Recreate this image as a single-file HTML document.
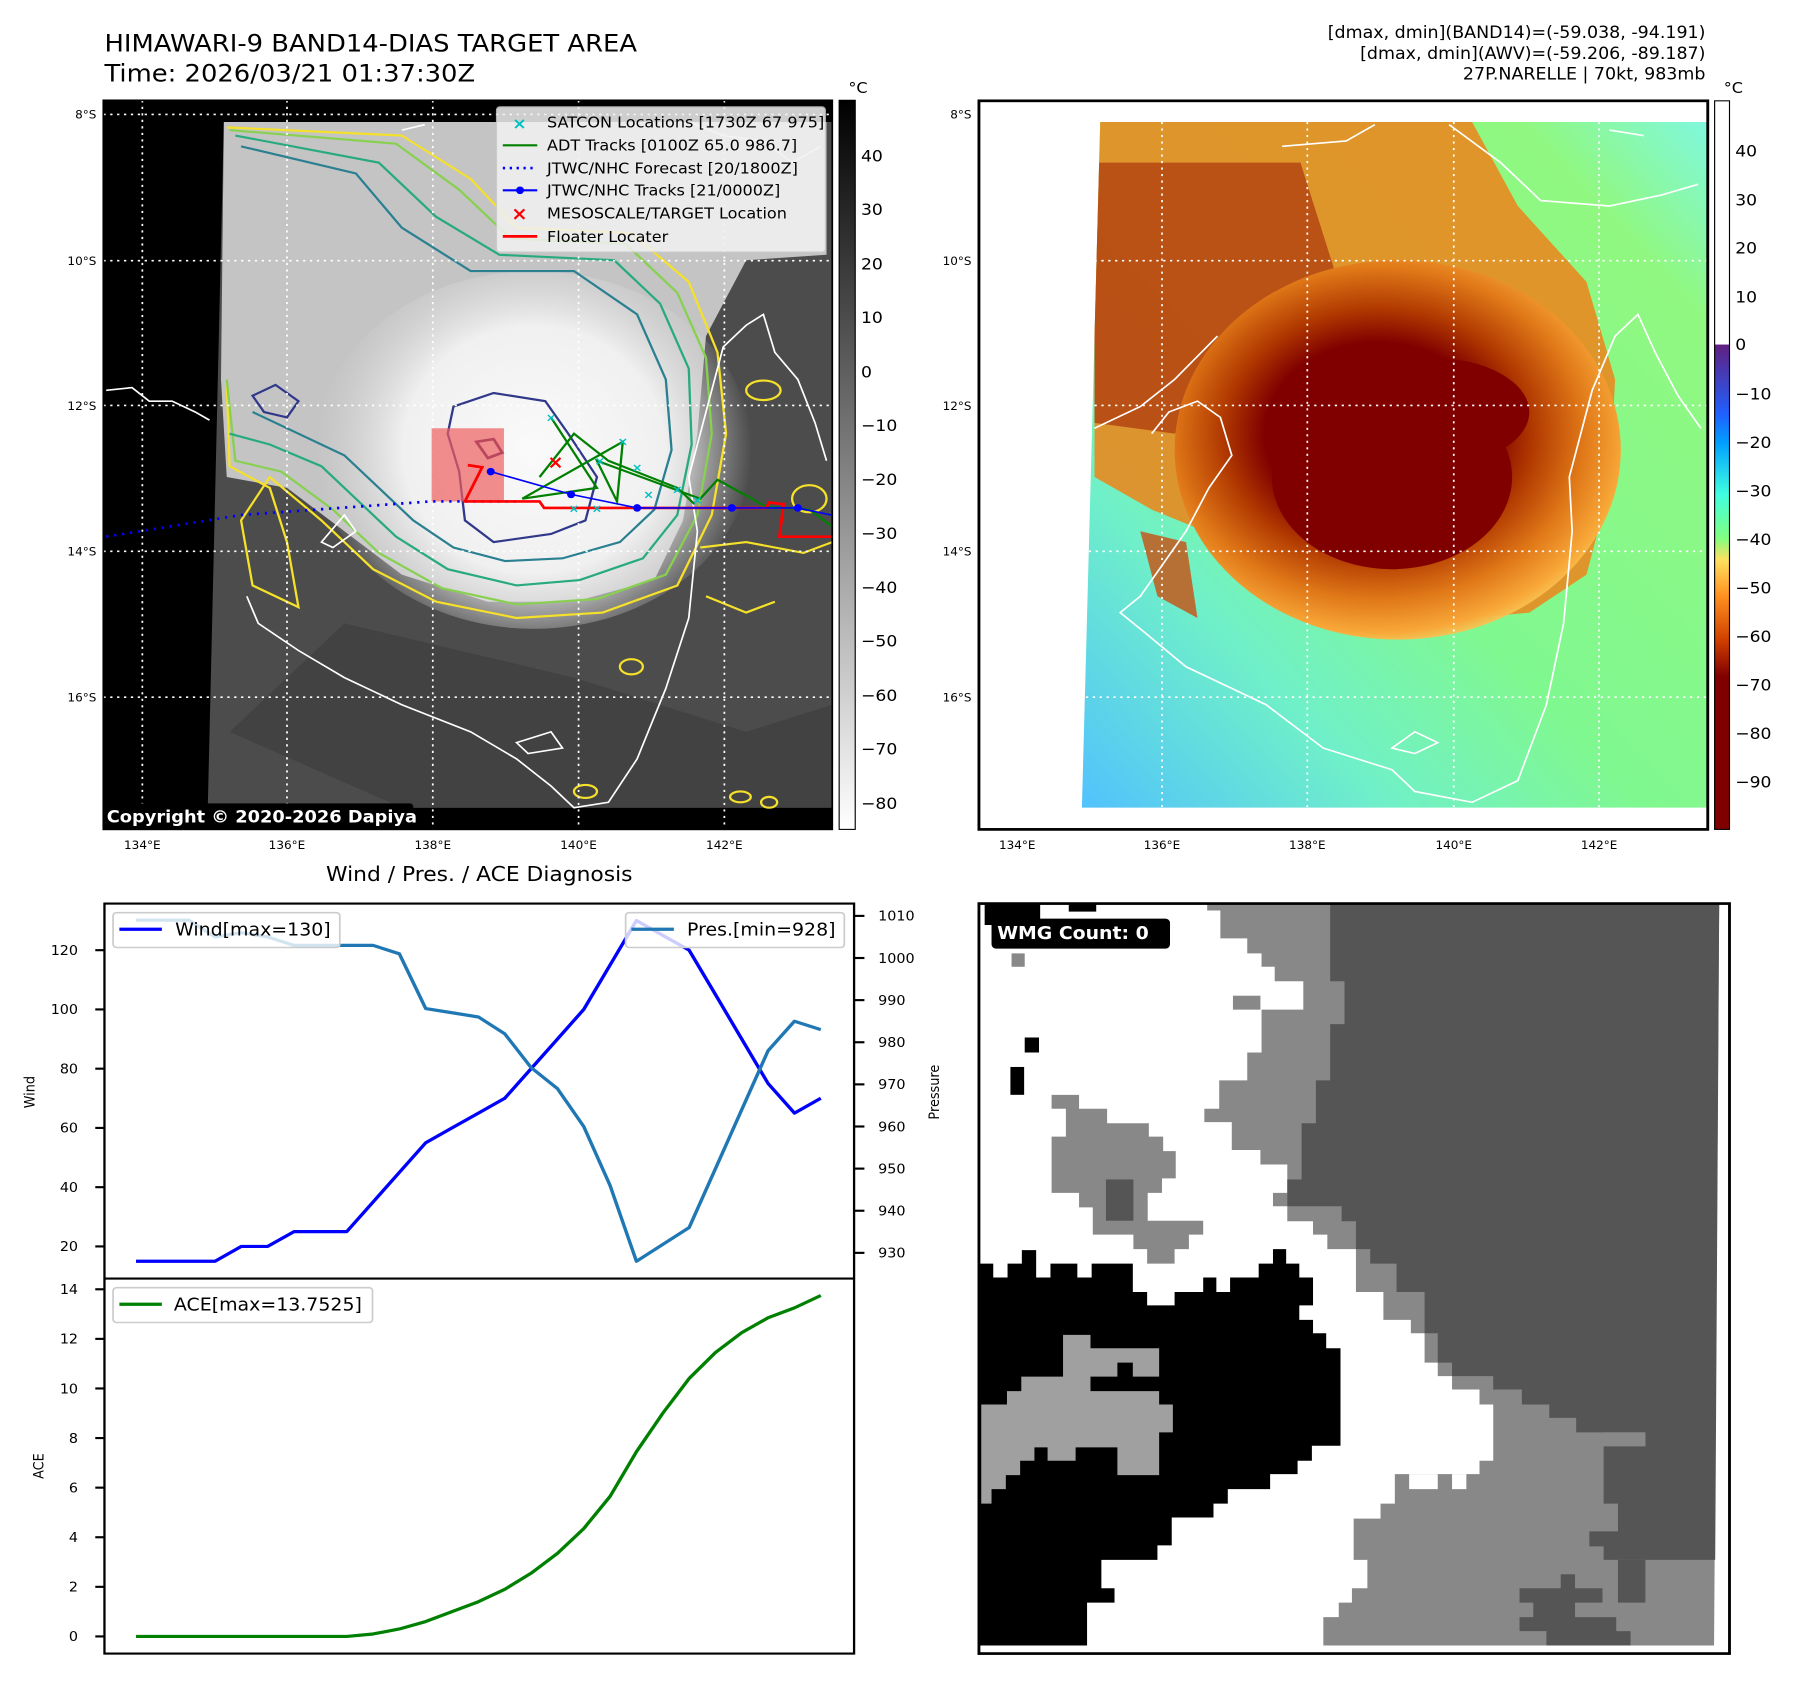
<!DOCTYPE html>
<html><head><meta charset="utf-8"><style>
html,body{margin:0;padding:0;background:#fff;}
body{width:1797px;height:1690px;position:relative;overflow:hidden;font-family:"Liberation Sans","DejaVu Sans",sans-serif;}
svg.q{position:absolute;overflow:visible;}
svg text{font-family:"DejaVu Sans","Liberation Sans",sans-serif;}
</style></head><body>

<!-- TOP LEFT: IR map -->
<svg class="q" style="left:0;top:0;width:900px;height:850px" viewBox="0 0 1568 1568" preserveAspectRatio="none">
<defs>
<radialGradient id="eyeg" cx="930" cy="830" r="380" gradientUnits="userSpaceOnUse">
<stop offset="0" stop-color="#fafafa"/><stop offset="0.6" stop-color="#f0f0f0"/><stop offset="1" stop-color="#d8d8d8" stop-opacity="0"/></radialGradient>
<linearGradient id="cb1" x1="0" y1="0" x2="0" y2="1"><stop offset="0" stop-color="#000"/><stop offset="1" stop-color="#fff"/></linearGradient>
<clipPath id="mclip"><rect x="180" y="185" width="1270" height="1345"/></clipPath>
</defs>
<text x="182" y="95" font-size="45">HIMAWARI-9 BAND14-DIAS TARGET AREA</text>
<text x="182" y="150" font-size="45">Time: 2026/03/21 01:37:30Z</text>
<rect x="180" y="185" width="1270" height="1345" fill="#000"/>
<g clip-path="url(#mclip)">
<polygon points="390,225 1450,225 1450,1490 362,1490" fill="#4c4c4c"/>
<polygon points="600,1150 1000,1250 1300,1350 1450,1300 1450,1490 700,1490 400,1350" fill="#3e3e3e" opacity="0.7"/>
<polygon points="390,225 1440,225 1440,470 1300,480 1230,620 1215,800 1190,960 1140,1070 1000,1110 850,1110 700,1060 600,980 500,900 395,880 385,700" fill="#c4c4c4"/>
<ellipse cx="930" cy="830" rx="380" ry="330" fill="url(#eyeg)"/>
<g fill="none" stroke-width="4">
<path d="M395,235 L700,250 L820,330 L900,420 L1100,430 L1200,520 L1250,650 L1265,800 L1240,950 L1180,1080 L1050,1130 L900,1140 L760,1110 L650,1050 L560,960 L470,880 L420,960 L440,1080 L520,1120 L500,1000 L470,900 L400,860 L395,700" stroke="#f5e02a"/>
<path d="M400,240 L690,265 L800,350 L890,440 L1090,450 L1180,540 L1230,660 L1240,800 L1215,950 L1160,1060 L1040,1105 L900,1115 L770,1085 L660,1020 L580,940 L490,870 L410,850 L395,700" stroke="#88d050"/>
<path d="M410,250 L660,300 L760,400 L870,470 L1070,480 L1150,560 L1200,680 L1205,820 L1180,950 L1120,1030 L1010,1070 L900,1080 L780,1050 L690,990 L620,920 L560,860 L470,820 L400,800" stroke="#28aa80"/>
<path d="M420,270 L620,320 L700,420 L820,500 L1000,500 L1110,580 L1160,700 L1170,830 L1140,940 L1080,1000 L980,1030 L880,1035 L790,1010 L720,960 L660,900 L600,840 L520,800 L440,760" stroke="#2a8090"/>
<path d="M790,750 L860,725 L950,740 L990,800 L1040,880 L1020,960 L960,985 L860,1000 L810,960 L800,870 L780,800 Z" stroke="#30388a"/>
<path d="M440,730 L480,710 L520,740 L500,770 L460,760 Z" stroke="#30388a"/>
<path d="M830,815 L860,810 L875,835 L850,845 Z" stroke="#401060" stroke-width="5"/>
</g>
<g fill="none" stroke="#f5e02a" stroke-width="4">
<ellipse cx="1330" cy="720" rx="30" ry="18"/><ellipse cx="1410" cy="920" rx="30" ry="25"/><ellipse cx="1100" cy="1230" rx="20" ry="14"/><ellipse cx="1290" cy="1470" rx="18" ry="10"/><ellipse cx="1340" cy="1480" rx="14" ry="10"/><ellipse cx="1020" cy="1460" rx="20" ry="12"/>
<path d="M1220,1010 L1300,1000 L1400,1020 L1450,1000 M1230,1100 L1300,1130 L1350,1110"/>
</g>
<g fill="none" stroke="#fff" stroke-width="3">
<path d="M185,720 L230,715 L260,740 L300,740 L340,760 L365,775"/>
<path d="M430,1100 L450,1150 L520,1200 L600,1250 L700,1300 L820,1350 L900,1400 L960,1450 L1000,1490 L1060,1480 L1110,1400 L1160,1270 L1200,1140 L1215,980 L1200,880 L1230,760 L1260,640 L1300,600 L1330,580 L1350,650 L1390,700 L1420,780 L1440,850"/>
<path d="M1200,225 L1260,250 L1330,260 L1380,300 L1430,270 M700,240 L740,230"/>
<path d="M560,1000 L600,950 L620,980 L580,1010 Z M900,1370 L960,1350 L980,1380 L920,1390 Z"/>
</g>
<g stroke="#fff" stroke-width="3" stroke-dasharray="4,8">
<line x1="248" y1="185" x2="248" y2="1530"/><line x1="500" y1="185" x2="500" y2="1530"/><line x1="754" y1="185" x2="754" y2="1530"/><line x1="1008" y1="185" x2="1008" y2="1530"/><line x1="1262" y1="185" x2="1262" y2="1530"/>
<line x1="180" y1="211" x2="1450" y2="211"/><line x1="180" y1="481" x2="1450" y2="481"/><line x1="180" y1="748" x2="1450" y2="748"/><line x1="180" y1="1017" x2="1450" y2="1017"/><line x1="180" y1="1286" x2="1450" y2="1286"/>
</g>
<rect x="752" y="790" width="126" height="135" fill="#f06060" opacity="0.7"/>
<polyline points="185,990 420,950 750,925 905,925" fill="none" stroke="#0000ff" stroke-width="5" stroke-dasharray="4,10"/>
<polyline points="960,770 1040,900 910,920 1085,815 1075,925 1040,850 1220,920 1250,885 1310,920 1335,935 1410,940 1448,970" fill="none" stroke="#008000" stroke-width="4"/>
<polyline points="940,880 1000,800 1060,850 1180,900 1210,930" fill="none" stroke="#008000" stroke-width="4"/>
<polyline points="815,858 840,862 810,925 905,925 940,925 948,937 1335,937 1340,927 1365,930 1358,990 1448,990" fill="none" stroke="#ff0000" stroke-width="5"/>
<polyline points="855,870 995,912 1110,937 1275,937 1390,937 1448,950" fill="none" stroke="#0000ff" stroke-width="3"/>
<g fill="#0000ff"><circle cx="855" cy="870" r="7"/><circle cx="995" cy="912" r="7"/><circle cx="1110" cy="937" r="7"/><circle cx="1275" cy="937" r="7"/><circle cx="1390" cy="937" r="7"/></g>
<g fill="#00c0c0" font-size="22" font-weight="bold" text-anchor="middle"><text x="960" y="778">×</text><text x="1085" y="822">×</text><text x="1045" y="858">×</text><text x="1110" y="870">×</text><text x="1130" y="920">×</text><text x="1180" y="910">×</text><text x="1215" y="930">×</text><text x="1000" y="945">×</text><text x="1040" y="945">×</text></g>
<text x="968" y="864" font-size="34" fill="#ff0000" font-weight="bold" text-anchor="middle">×</text>
<rect x="865" y="197" width="573" height="268" rx="6" fill="#f2f2f2" opacity="0.85" stroke="#ccc" stroke-width="2"/>
<g font-size="28" fill="#000">
<text x="953" y="235">SATCON Locations [1730Z 67 975]</text>
<text x="953" y="278">ADT Tracks [0100Z 65.0 986.7]</text>
<text x="953" y="320">JTWC/NHC Forecast [20/1800Z]</text>
<text x="953" y="361">JTWC/NHC Tracks [21/0000Z]</text>
<text x="953" y="403">MESOSCALE/TARGET Location</text>
<text x="953" y="446">Floater Locater</text>
</g>
<text x="905" y="238" font-size="30" fill="#00c0c0" font-weight="bold" text-anchor="middle">×</text>
<line x1="876" y1="268" x2="936" y2="268" stroke="#008000" stroke-width="4"/>
<line x1="876" y1="310" x2="936" y2="310" stroke="#0000ff" stroke-width="5" stroke-dasharray="4,8"/>
<line x1="876" y1="351" x2="936" y2="351" stroke="#0000ff" stroke-width="4"/><circle cx="906" cy="351" r="7" fill="#0000ff"/>
<text x="905" y="406" font-size="34" fill="#ff0000" font-weight="bold" text-anchor="middle">×</text>
<line x1="876" y1="436" x2="936" y2="436" stroke="#ff0000" stroke-width="5"/>
<rect x="178" y="1482" width="542" height="48" rx="6" fill="#000"/>
<text x="186" y="1517" font-size="31" font-weight="bold" fill="#fff">Copyright © 2020-2026 Dapiya</text>
</g>
<rect x="180" y="185" width="1270" height="1345" fill="none" stroke="#000" stroke-width="3"/>
<g font-size="21" text-anchor="end">
<text x="168" y="219">8°S</text><text x="168" y="489">10°S</text><text x="168" y="756">12°S</text><text x="168" y="1025">14°S</text><text x="168" y="1294">16°S</text></g>
<g font-size="21" text-anchor="middle">
<text x="248" y="1566">134°E</text><text x="500" y="1566">136°E</text><text x="754" y="1566">138°E</text><text x="1008" y="1566">140°E</text><text x="1262" y="1566">142°E</text></g>
<rect x="1462" y="185" width="28" height="1345" fill="url(#cb1)" stroke="#000" stroke-width="2"/>
<text x="1478" y="172" font-size="28">°C</text>
<g font-size="30">
<text x="1500" y="298">40</text><text x="1500" y="397">30</text><text x="1500" y="497">20</text><text x="1500" y="596">10</text><text x="1500" y="696">0</text><text x="1500" y="795">−10</text><text x="1500" y="895">−20</text><text x="1500" y="994">−30</text><text x="1500" y="1094">−40</text><text x="1500" y="1193">−50</text><text x="1500" y="1293">−60</text><text x="1500" y="1392">−70</text><text x="1500" y="1492">−80</text></g>
</svg>

<!-- TOP RIGHT: colour-enhanced map -->
<svg class="q" style="left:900px;top:0;width:897px;height:850px" viewBox="0 0 1568 1568" preserveAspectRatio="none">
<defs>
<linearGradient id="bg2" x1="0" y1="1" x2="1" y2="0"><stop offset="0" stop-color="#50c0ff"/><stop offset="0.25" stop-color="#70f0c8"/><stop offset="0.45" stop-color="#80f890"/><stop offset="0.85" stop-color="#90f880"/><stop offset="1" stop-color="#80f8e0"/></linearGradient>
<radialGradient id="storm" cx="835" cy="800" r="600" gradientUnits="userSpaceOnUse" gradientTransform="translate(835 800) scale(1 0.85) translate(-835 -800)">
<stop offset="0" stop-color="#800000"/><stop offset="0.33" stop-color="#800000"/><stop offset="0.45" stop-color="#b03800"/><stop offset="0.6" stop-color="#e07818"/><stop offset="0.72" stop-color="#f8a838"/><stop offset="0.8" stop-color="#ffe070" stop-opacity="0.8"/><stop offset="0.9" stop-color="#ffe070" stop-opacity="0"/></radialGradient>
<linearGradient id="cb2" x1="0" y1="0" x2="0" y2="1">
<stop offset="0" stop-color="#fff"/><stop offset="0.334" stop-color="#fff"/><stop offset="0.335" stop-color="#602080"/><stop offset="0.43" stop-color="#2060ff"/><stop offset="0.47" stop-color="#00a0ff"/><stop offset="0.54" stop-color="#40ffe0"/><stop offset="0.6" stop-color="#80ff80"/><stop offset="0.63" stop-color="#ffe060"/><stop offset="0.68" stop-color="#ff9020"/><stop offset="0.74" stop-color="#d04000"/><stop offset="0.79" stop-color="#800000"/><stop offset="1" stop-color="#800000"/></linearGradient>
<clipPath id="dclip"><polygon points="350,225 1410,225 1410,1490 318,1490"/></clipPath>
</defs>
<g font-size="30.5" text-anchor="end">
<text x="1408" y="70">[dmax, dmin](BAND14)=(-59.038, -94.191)</text>
<text x="1408" y="109">[dmax, dmin](AWV)=(-59.206, -89.187)</text>
<text x="1408" y="147">27P.NARELLE | 70kt, 983mb</text></g>
<g clip-path="url(#dclip)">
<rect x="300" y="225" width="1120" height="1270" fill="url(#bg2)"/>
<polygon points="340,225 1000,225 1080,380 1200,520 1250,700 1240,900 1200,1060 1100,1130 900,1150 700,1100 580,1000 440,940 340,880" fill="#e88a20" opacity="0.9"/>
<polygon points="340,300 700,300 760,500 600,700 480,800 340,780" fill="#b04010" opacity="0.8"/>
<polygon points="420,980 500,1000 520,1140 450,1100" fill="#c85010" opacity="0.8"/>
<ellipse cx="870" cy="830" rx="390" ry="350" fill="url(#storm)"/>
<ellipse cx="860" cy="880" rx="210" ry="170" fill="#800000"/>
<ellipse cx="930" cy="760" rx="170" ry="100" fill="#800000"/>
</g>
<g fill="none" stroke="#fff" stroke-width="3">
<path d="M668,270 L780,260 L830,230 M960,230 L1050,300 L1120,370 L1240,380 L1330,360 L1395,340"/>
<path d="M340,790 L420,750 L480,700 L555,620 M440,800 L470,760 L520,740 L560,770 L580,840 L540,900 L500,980 L460,1040 L420,1100 L385,1130 L420,1160 L500,1230 L560,1260 L640,1300 L740,1380 L860,1420 L900,1460 L1000,1480 L1080,1440 L1130,1300 L1160,1150 L1175,980 L1170,880 L1190,800 L1210,720 L1250,620 L1290,580 L1320,650 L1360,730 L1400,790"/>
<path d="M860,1380 L900,1350 L940,1370 L900,1390 Z M1240,240 L1300,250"/>
</g>
<g stroke="#fff" stroke-width="3" stroke-dasharray="4,8">
<line x1="458" y1="225" x2="458" y2="1490"/><line x1="712" y1="225" x2="712" y2="1490"/><line x1="968" y1="225" x2="968" y2="1490"/><line x1="1222" y1="225" x2="1222" y2="1490"/>
<line x1="340" y1="481" x2="1410" y2="481"/><line x1="340" y1="748" x2="1410" y2="748"/><line x1="330" y1="1017" x2="1410" y2="1017"/><line x1="325" y1="1286" x2="1410" y2="1286"/>
</g>
<rect x="138" y="186" width="1274" height="1344" fill="none" stroke="#000" stroke-width="5"/>
<g font-size="21" text-anchor="end">
<text x="125" y="219">8°S</text><text x="125" y="489">10°S</text><text x="125" y="756">12°S</text><text x="125" y="1025">14°S</text><text x="125" y="1294">16°S</text></g>
<g font-size="21" text-anchor="middle">
<text x="205" y="1566">134°E</text><text x="458" y="1566">136°E</text><text x="712" y="1566">138°E</text><text x="968" y="1566">140°E</text><text x="1222" y="1566">142°E</text></g>
<rect x="1424" y="186" width="26" height="1344" fill="url(#cb2)" stroke="#000" stroke-width="2"/>
<text x="1440" y="172" font-size="28">°C</text>
<g font-size="30">
<text x="1460" y="289">40</text><text x="1460" y="379">30</text><text x="1460" y="468">20</text><text x="1460" y="558">10</text><text x="1460" y="646">0</text><text x="1460" y="737">−10</text><text x="1460" y="826">−20</text><text x="1460" y="916">−30</text><text x="1460" y="1005">−40</text><text x="1460" y="1095">−50</text><text x="1460" y="1184">−60</text><text x="1460" y="1274">−70</text><text x="1460" y="1363">−80</text><text x="1460" y="1453">−90</text></g>
</svg>

<!-- BOTTOM RIGHT: WMG (drawn before chart so pressure labels overlay) -->
<svg class="q" style="left:900px;top:850px;width:897px;height:840px" viewBox="0 0 1568 1568" preserveAspectRatio="none">
<text transform="translate(68,452) rotate(-90)" font-size="24" text-anchor="middle">Pressure</text>
<rect x="138" y="100" width="1312" height="1400" fill="#fff"/>
<polygon fill="#888" points="537,100 1432,100 1423,1485 740,1485 740,1432 767,1432 767,1405 790,1405 790,1378 817,1378 817,1325 793,1325 793,1248 840,1248 840,1220 865,1220 865,1165 1013,1165 1013,1140 1037,1140 1037,1035 1013,1035 1013,1007 965,1007 965,982 940,982 940,957 917,957 917,902 893,902 893,877 845,877 845,825 797,825 797,745 747,745 747,718 722,718 722,693 677,693 677,665 652,665 652,640 677,640 677,587 630,587 630,560 580,560 580,508 532,508 532,483 558,483 558,430 607,430 607,378 632,378 632,298 705,298 705,245 655,245 655,218 632,218 632,193 607,193 607,165 560,165 560,113 537,113"/>
<polygon fill="#fff" points="890,1165 890,1193 940,1193 940,1165 965,1165 965,1193 990,1193 990,1165"/>
<polygon fill="#555" points="752,100 1432,100 1425,1325 1230,1325 1230,1300 1205,1300 1205,1272 1255,1272 1255,1220 1230,1220 1230,1113 1303,1113 1303,1087 1182,1087 1182,1060 1135,1060 1135,1035 1087,1035 1087,1007 1037,1007 1037,982 965,982 965,957 940,957 940,902 917,902 917,825 868,825 868,772 822,772 822,745 797,745 797,693 772,693 772,665 677,665 677,615 702,615 702,510 727,510 727,430 752,430 752,325 777,325 777,245 752,245"/>
<polygon fill="#555" points="1083,1378 1155,1378 1155,1352 1180,1352 1180,1378 1228,1378 1228,1405 1180,1405 1180,1432 1252,1432 1252,1458 1277,1458 1277,1485 1130,1485 1130,1458 1083,1458 1083,1432 1107,1432 1107,1405 1083,1405"/>
<polygon fill="#555" points="1255,1325 1303,1325 1303,1405 1255,1405"/>
<polygon fill="#888" points="1303,1087 1303,1113 1230,1113 1230,1087"/>
<polygon fill="#000" points="138,772 163,772 163,798 188,798 188,772 213,772 213,747 238,747 238,798 263,798 263,772 310,772 310,798 335,798 335,772 407,772 407,825 432,825 432,850 480,850 480,825 530,825 530,798 553,798 553,825 577,825 577,798 627,798 627,772 652,772 652,745 675,745 675,772 698,772 698,798 722,798 722,850 698,850 698,877 722,877 722,902 745,902 745,930 770,930 770,1112 720,1112 720,1140 695,1140 695,1165 647,1165 647,1193 573,1193 573,1220 548,1220 548,1246 475,1246 475,1298 450,1298 450,1325 352,1325 352,1378 375,1378 375,1405 327,1405 327,1485 138,1485"/>
<polygon fill="#a0a0a0" points="285,905 333,905 333,930 453,930 453,983 407,983 407,957 380,957 380,983 333,983 333,1010 453,1010 453,1035 477,1035 477,1087 453,1087 453,1167 380,1167 380,1115 307,1115 307,1140 258,1140 258,1115 235,1115 235,1140 210,1140 210,1167 185,1167 185,1193 160,1193 160,1220 142,1220 142,1035 187,1035 187,1010 212,1010 212,983 285,983"/>
<polygon fill="#888" points="265,457 313,457 313,483 362,483 362,510 435,510 435,535 460,535 460,562 482,562 482,613 458,613 458,640 433,640 433,692 530,692 530,718 505,718 505,745 480,745 480,772 432,772 432,745 408,745 408,718 337,718 337,667 313,667 313,640 265,640 265,535 290,535 290,483 265,483"/>
<rect x="360" y="615" width="48" height="77" fill="#555"/>
<rect x="195" y="193" width="23" height="25" fill="#888"/><rect x="582" y="272" width="48" height="26" fill="#888"/>
<rect x="218" y="350" width="25" height="28" fill="#000"/><rect x="193" y="405" width="24" height="52" fill="#000"/>
<rect x="148" y="100" width="97" height="40" fill="#000"/><rect x="295" y="100" width="48" height="15" fill="#000"/>
<rect x="138" y="100" width="1312" height="1400" fill="none" stroke="#000" stroke-width="5"/>
<rect x="160" y="128" width="312" height="56" rx="8" fill="#000"/>
<text x="170" y="166" font-size="33" font-weight="bold" fill="#fff">WMG Count: 0</text>
</svg>

<!-- BOTTOM LEFT: Wind / Pres / ACE -->
<svg class="q" id="diag" style="left:0;top:850px;width:900px;height:840px" viewBox="0 0 1568 1568" preserveAspectRatio="none">
<text x="835" y="58" font-size="38" text-anchor="middle">Wind / Pres. / ACE Diagnosis</text>
<g id="marks"></g>
<rect x="182" y="100" width="1306" height="1400" fill="none" stroke="#000" stroke-width="4"/>
<line x1="182" y1="800" x2="1488" y2="800" stroke="#000" stroke-width="4"/>
<text transform="translate(60,452) rotate(-90)" font-size="24" text-anchor="middle">Wind</text>
<text transform="translate(76,1150) rotate(-90)" font-size="24" text-anchor="middle">ACE</text>
<g id="legends">
<rect x="197" y="117" width="395" height="65" rx="6" fill="#fff" fill-opacity="0.8" stroke="#ccc" stroke-width="3"/>
<line x1="208" y1="148" x2="282" y2="148" stroke="#0000ff" stroke-width="6"/>
<text x="305" y="160" font-size="33">Wind[max=130]</text>
<rect x="1090" y="117" width="381" height="65" rx="6" fill="#fff" fill-opacity="0.8" stroke="#ccc" stroke-width="3"/>
<line x1="1100" y1="148" x2="1174" y2="148" stroke="#1f77b4" stroke-width="6"/>
<text x="1197" y="160" font-size="33">Pres.[min=928]</text>
<rect x="197" y="817" width="452" height="65" rx="6" fill="#fff" fill-opacity="0.8" stroke="#ccc" stroke-width="3"/>
<line x1="208" y1="848" x2="282" y2="848" stroke="#008000" stroke-width="6"/>
<text x="303" y="860" font-size="33">ACE[max=13.7525]</text>
</g>
</svg>

<script>
const windVals=[15,15,15,15,20,20,25,25,25,35,45,55,60,65,70,80,90,100,115,130,125,120,105,90,75,65,70];
const presVals=[1009,1009,1009,1005,1006,1005,1003,1003,1003,1003,1001,988,987,986,982,974,969,960,946,928,932,936,950,964,978,985,983];
const aceVals=[0,0,0,0,0,0,0,0,0,0.1,0.3,0.6,1.0,1.4,1.9,2.55,3.35,4.35,5.65,7.45,9.0,10.4,11.45,12.25,12.85,13.25,13.75];
const windTicks=[20,40,60,80,100,120];
const presTicks=[930,940,950,960,970,980,990,1000,1010];
const aceTicks=[0,2,4,6,8,10,12,14];
const NS='http://www.w3.org/2000/svg';
const g=document.getElementById('marks');
function xPos(i){return 237+i*(1430-237)/(windVals.length-1);}
function yWind(w){return 187+(120-w)*(740-187)/100;}
function yPres(p){return 123+(1010-p)*(752-123)/80;}
function yAce(a){return 1468-a*(1468-820)/14;}
function mk(tag,attrs){const e=document.createElementNS(NS,tag);for(const k in attrs)e.setAttribute(k,attrs[k]);g.appendChild(e);return e;}
function line(vals,yf,color,name){
  const pts=vals.map((v,i)=>xPos(i).toFixed(1)+','+yf(v).toFixed(1)).join(' ');
  const p=mk('polyline',{points:pts,fill:'none',stroke:color,'stroke-width':6,'stroke-linejoin':'round'});
  
  
}
function ticks(arr,yf,side,name){
  arr.forEach(t=>{
    const y=yf(t);
    if(side==='left'){mk('line',{x1:166,y1:y,x2:182,y2:y,stroke:'#000','stroke-width':4});
      const tx=mk('text',{x:136,y:y+9,'font-size':25,'text-anchor':'end'});tx.textContent=t;
      
      }
    else{mk('line',{x1:1488,y1:y,x2:1506,y2:y,stroke:'#000','stroke-width':4});
      const tx=mk('text',{x:1530,y:y+9,'font-size':25});tx.textContent=t;
      
      }
  });
}
ticks(windTicks,yWind,'left','wind-tick');
ticks(aceTicks,yAce,'left','ace-tick');
ticks(presTicks,yPres,'right','pressure-tick');
line(windVals,yWind,'#0000ff','wind-line');
line(presVals,yPres,'#1f77b4','pressure-line');
line(aceVals,yAce,'#008000','ace-line');
</script>
</body></html>
